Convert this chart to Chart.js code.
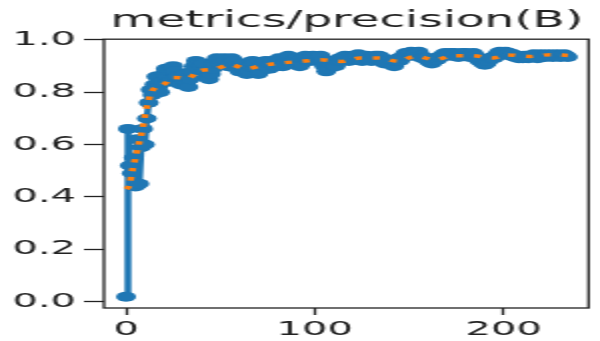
<!DOCTYPE html>
<html>
<head>
<meta charset="utf-8">
<script src="https://cdn.jsdelivr.net/npm/chart.js@4"></script>
<style>
    body { margin: 0; background: #fff; }
</style>
</head>
<body>
<canvas id="chart" width="300" height="341" style="display:block;width:600px;height:341px"></canvas>
<script>
// Raw precision per epoch (0..234)
const precision = [
    0.018, 0.66, 0.52, 0.49, 0.55, 0.44, 0.62, 0.45, 0.59, 0.66,
    0.60, 0.70, 0.76, 0.81, 0.79, 0.83, 0.86, 0.82, 0.80, 0.84,
    0.87, 0.89, 0.86, 0.84, 0.88, 0.90, 0.88, 0.86, 0.84, 0.83,
    0.85, 0.87, 0.84, 0.82, 0.85, 0.88, 0.90, 0.92, 0.91, 0.89,
    0.90, 0.91, 0.88, 0.86, 0.85, 0.87, 0.89, 0.91, 0.93, 0.92,
    0.91, 0.92, 0.93, 0.92, 0.90, 0.91, 0.93, 0.92, 0.90, 0.89,
    0.88, 0.90, 0.91, 0.89, 0.87, 0.88, 0.90, 0.92, 0.91, 0.89,
    0.87, 0.88, 0.90, 0.91, 0.92, 0.90, 0.89, 0.91, 0.92, 0.90,
    0.91, 0.93, 0.92, 0.90, 0.91, 0.93, 0.94, 0.92, 0.91, 0.92,
    0.93, 0.92, 0.90, 0.91, 0.93, 0.94, 0.93, 0.92, 0.93, 0.94,
    0.93, 0.92, 0.93, 0.94, 0.92, 0.90, 0.88, 0.89, 0.91, 0.92,
    0.91, 0.90, 0.92, 0.93, 0.92, 0.93, 0.94, 0.93, 0.92, 0.93,
    0.94, 0.93, 0.94, 0.945, 0.93, 0.92, 0.93, 0.94, 0.935, 0.93,
    0.92, 0.93, 0.94, 0.93, 0.94, 0.935, 0.92, 0.91, 0.92, 0.91,
    0.92, 0.91, 0.90, 0.92, 0.93, 0.92, 0.93, 0.94, 0.95, 0.94,
    0.95, 0.955, 0.94, 0.945, 0.95, 0.955, 0.94, 0.93, 0.935, 0.93,
    0.92, 0.915, 0.91, 0.92, 0.93, 0.925, 0.935, 0.94, 0.945, 0.95,
    0.94, 0.945, 0.95, 0.94, 0.95, 0.945, 0.935, 0.94, 0.95, 0.945,
    0.95, 0.94, 0.935, 0.945, 0.95, 0.94, 0.93, 0.92, 0.925, 0.91,
    0.905, 0.91, 0.92, 0.93, 0.935, 0.93, 0.94, 0.95, 0.955, 0.945,
    0.95, 0.955, 0.945, 0.95, 0.94, 0.945, 0.935, 0.94, 0.93, 0.935,
    0.93, 0.94, 0.935, 0.93, 0.935, 0.94, 0.945, 0.935, 0.93, 0.94,
    0.945, 0.94, 0.935, 0.94, 0.945, 0.94, 0.935, 0.94, 0.945, 0.94,
    0.935, 0.94, 0.945, 0.94, 0.935
];
const epochs = precision.map((_, i) => i);

// Smoothed curve
const smoothEpochs = [0, 1, 2, 3, 4, 5, 6, 7, 8, 9, 10, 11, 12, 13, 15, 20, 25, 30, 33, 38,
    47, 55, 64, 73, 82, 93, 103, 114, 124, 134, 144, 153, 164, 173, 183, 194, 202, 214, 225, 234];
const smoothValues = [0.43, 0.435, 0.45, 0.49, 0.52, 0.55, 0.58, 0.61, 0.635, 0.67, 0.71, 0.745, 0.77, 0.795, 0.815, 0.83, 0.857, 0.855, 0.853, 0.88,
    0.889, 0.905, 0.891, 0.904, 0.912, 0.918, 0.924, 0.918, 0.931, 0.931, 0.919, 0.937, 0.925, 0.940, 0.940, 0.931, 0.943, 0.937, 0.944, 0.941];

const xTicks = [0, 100, 200];
const yTicks = [0, 0.2, 0.4, 0.6, 0.8, 1.0];

const FONT = 'DejaVu Sans';
const INK = '#222';

// white background + full box around the plot
const framePlugin = {
    id: 'frame',
    beforeDraw(chart) {
        const ctx = chart.ctx;
        ctx.save();
        ctx.fillStyle = '#fff';
        ctx.fillRect(0, 0, chart.width, chart.height);
        ctx.restore();
    },
    afterDraw(chart) {
        const { left, top, right, bottom } = chart.chartArea;
        const ctx = chart.ctx;
        ctx.save();
        ctx.strokeStyle = INK;
        ctx.lineWidth = 1.3;
        ctx.strokeRect(left, top, right - left - 0.7, bottom - top);
        ctx.restore();
    }
};

new Chart(document.getElementById('chart'), {
    type: 'line',
    data: {
        datasets: [{
            label: 'smooth',
            data: smoothEpochs.map((e, i) => ({ x: e, y: smoothValues[i] })),
            borderColor: '#ff7f0e',
            borderWidth: 3.5,
            borderDash: [3.5, 5.5],
            borderCapStyle: 'butt',
            pointRadius: 0,
            cubicInterpolationMode: 'monotone',
            fill: false
        }, {
            label: 'results',
            data: epochs.map((e, i) => ({ x: e, y: precision[i] })),
            borderColor: '#1f77b4',
            borderWidth: 3.4,
            borderJoinStyle: 'round',
            pointRadius: 5,
            pointBackgroundColor: '#1f77b4',
            pointBorderWidth: 0,
            tension: 0,
            fill: false
        }]
    },
    options: {
        responsive: false,
        animation: false,
        devicePixelRatio: 1,
        layout: { padding: 0 },
        plugins: {
            legend: { display: false },
            tooltip: { enabled: false },
            title: {
                display: true,
                fullSize: false,
                text: 'metrics/precision(B)',
                color: INK,
                font: { family: FONT, size: 23.5, weight: 'normal' },
                padding: { top: 7, bottom: 4 }
            }
        },
        scales: {
            x: {
                type: 'linear',
                min: -11.7,
                max: 245.7,
                afterBuildTicks: s => { s.ticks = xTicks.map(v => ({ value: v })); },
                afterFit: s => { s.height = 33; },
                ticks: {
                    color: INK,
                    font: { family: FONT, size: 20 },
                    padding: 3,
                    maxRotation: 0,
                    callback: v => String(v)
                },
                grid: { drawOnChartArea: false, tickLength: 7, tickColor: INK, tickWidth: 1.3 },
                border: { display: false }
            },
            y: {
                min: -0.025,
                max: 1.003,
                afterBuildTicks: s => { s.ticks = yTicks.map(v => ({ value: v })); },
                afterFit: s => { s.width = 52; },
                ticks: {
                    color: INK,
                    font: { family: FONT, size: 20 },
                    padding: 4,
                    callback: v => v.toFixed(1)
                },
                grid: { drawOnChartArea: false, tickLength: 10, tickColor: INK, tickWidth: 1.3 },
                border: { display: false }
            }
        }
    },
    plugins: [framePlugin]
});
</script>
</body>
</html>
